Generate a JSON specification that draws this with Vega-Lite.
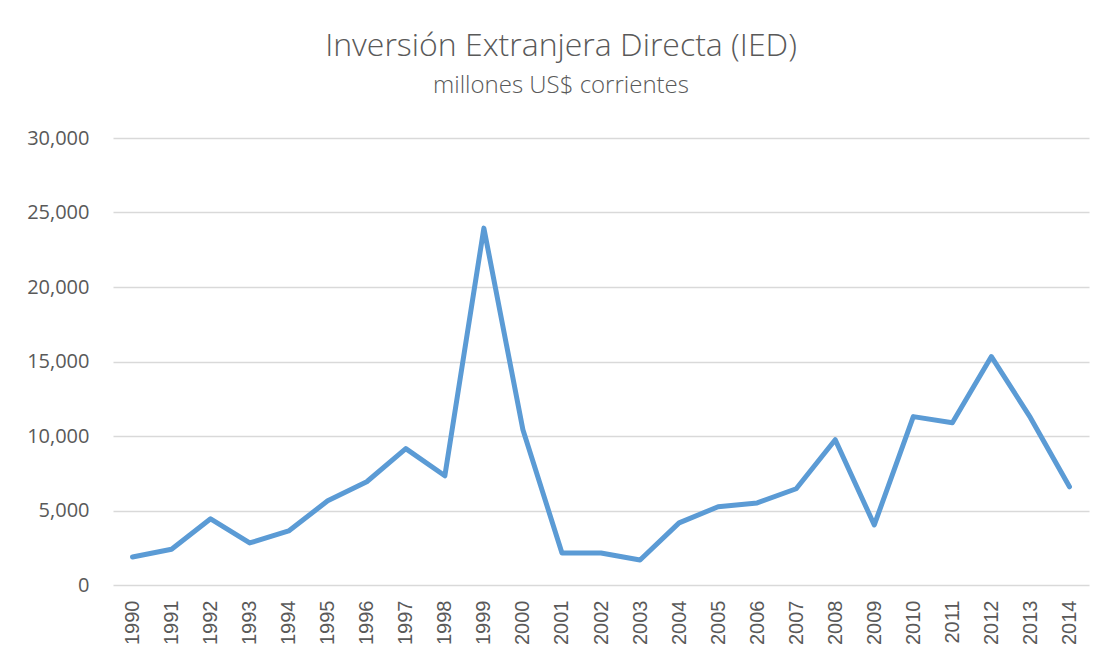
{
  "$schema": "https://vega.github.io/schema/vega-lite/v6.json",
  "autosize": "none",
  "width": 976,
  "height": 447,
  "padding": {"left": 113, "top": 138, "right": 24, "bottom": 78},
  "background": "white",
  "title": {
    "text": "Inversión Extranjera Directa (IED)",
    "subtitle": "millones US$ corrientes",
    "anchor": "middle",
    "frame": "group",
    "dx": -40,
    "offset": 29,
    "font": "Open Sans",
    "fontSize": 32,
    "fontWeight": 300,
    "color": "#595959",
    "subtitleFont": "Open Sans",
    "subtitleFontSize": 24,
    "subtitleFontWeight": 300,
    "subtitleColor": "#595959",
    "subtitlePadding": 11
  },
  "data": {
    "values": [
      {"year": "1990", "ied": 1880},
      {"year": "1991", "ied": 2400},
      {"year": "1992", "ied": 4440},
      {"year": "1993", "ied": 2820},
      {"year": "1994", "ied": 3630},
      {"year": "1995", "ied": 5650},
      {"year": "1996", "ied": 6930},
      {"year": "1997", "ied": 9150},
      {"year": "1998", "ied": 7330},
      {"year": "1999", "ied": 23950},
      {"year": "2000", "ied": 10420},
      {"year": "2001", "ied": 2150},
      {"year": "2002", "ied": 2150},
      {"year": "2003", "ied": 1680},
      {"year": "2004", "ied": 4170},
      {"year": "2005", "ied": 5250},
      {"year": "2006", "ied": 5510},
      {"year": "2007", "ied": 6460},
      {"year": "2008", "ied": 9750},
      {"year": "2009", "ied": 4030},
      {"year": "2010", "ied": 11300},
      {"year": "2011", "ied": 10890},
      {"year": "2012", "ied": 15330},
      {"year": "2013", "ied": 11230},
      {"year": "2014", "ied": 6590}
    ]
  },
  "mark": {"type": "line", "color": "#5B9BD5", "strokeWidth": 5, "strokeCap": "round", "strokeJoin": "round"},
  "encoding": {
    "x": {
      "field": "year",
      "type": "ordinal",
      "scale": {"type": "point", "padding": 0.5},
      "axis": {
        "title": null,
        "labelAngle": -90,
        "labelAlign": "right",
        "labelBaseline": "middle",
        "labelPadding": 15,
        "ticks": false,
        "domain": false,
        "grid": false,
        "labelFont": "Liberation Sans",
        "labelFontSize": 20,
        "labelColor": "#595959"
      }
    },
    "y": {
      "field": "ied",
      "type": "quantitative",
      "scale": {"domain": [0, 30000], "nice": false},
      "axis": {
        "title": null,
        "values": [0, 5000, 10000, 15000, 20000, 25000, 30000],
        "format": ",d",
        "ticks": false,
        "domain": false,
        "grid": true,
        "gridColor": "#D9D9D9",
        "gridWidth": 1.3,
        "labelPadding": 24,
        "labelFont": "Open Sans",
        "labelFontSize": 20,
        "labelColor": "#595959"
      }
    }
  },
  "config": {"view": {"stroke": null}}
}
